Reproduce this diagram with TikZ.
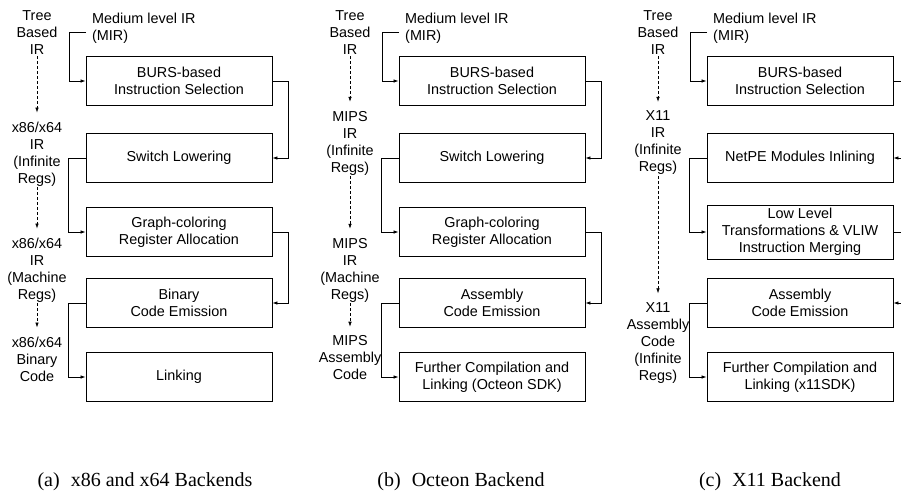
\documentclass[tikz,border=0pt]{standalone}
\usepackage{fontspec}
\setmainfont{Liberation Serif}
\setsansfont{Liberation Sans}
\usetikzlibrary{arrows.meta}

\tikzset{
  stage/.style={draw, line width=0.9pt, minimum width=186, minimum height=49,
    inner sep=1pt, align=center, font=\sffamily\fontsize{14.4}{17}\selectfont},
  irlabel/.style={inner sep=1pt, align=center, font=\sffamily\fontsize{14.4}{17}\selectfont},
  flow/.style={->, line width=0.7pt},
  lower/.style={->, dash pattern=on 3pt off 2pt, line width=0.6pt, shorten >=8pt},
  subcap/.style={anchor=base, font=\fontsize{20}{24}\selectfont}
}

\begin{document}
\begin{tikzpicture}[x=1pt, y=-1pt]
    \tikzset{>={Latex[length=5pt,width=3.5pt]}}
    \useasboundingbox (0,0) rectangle (901,493);
    \clip (0,0) rectangle (901,493);

    % (a) x86 and x64
    \node[stage] (a1) at (179,81) {BURS-based\\Instruction Selection};
    \node[stage] (a2) at (179,158) {Switch Lowering};
    \node[stage] (a3) at (179,232) {Graph-coloring\\Register Allocation};
    \node[stage] (a4) at (179,303) {Binary\\Code Emission};
    \node[stage] (a5) at (179,377) {Linking};
    \node[irlabel, anchor=west, align=left] (mira) at (91,28) {Medium level IR\\(MIR)};
    \coordinate (ina) at (86,32);
    \node[irlabel] (ta) at (37,33) {Tree\\Based\\IR};
    \node[irlabel] (ia) at (37,154) {x86/x64\\IR\\(Infinite\\Regs)};
    \node[irlabel] (ma) at (37,270) {x86/x64\\IR\\(Machine\\Regs)};
    \node[irlabel] (ba) at (37,359) {x86/x64\\Binary\\Code};
    \draw [flow] (ina) -- ++(-17,0) |- (a1.west);
    \draw [flow] (a1.east) -- ++(16,0) |- (a2.east);
    \draw [flow] (a2.west) -- ++(-17,0) |- (a3.west);
    \draw [flow] (a3.east) -- ++(16,0) |- (a4.east);
    \draw [flow] (a4.west) -- ++(-17,0) |- (a5.west);
    \draw [lower] (ta) -- (ia);
    \draw [lower] (ia) -- (ma);
    \draw [lower] (ma) -- (ba);
    \node[subcap] (capa) at (145,486) {(a)\hspace{0.55em}x86 and x64 Backends};

    % (b) Octeon
    \node[stage] (b1) at (492,81) {BURS-based\\Instruction Selection};
    \node[stage] (b2) at (492,158) {Switch Lowering};
    \node[stage] (b3) at (492,232) {Graph-coloring\\Register Allocation};
    \node[stage] (b4) at (492,303) {Assembly\\Code Emission};
    \node[stage] (b5) at (492,377) {Further Compilation and\\Linking (Octeon SDK)};
    \node[irlabel, anchor=west, align=left] (mirb) at (404,28) {Medium level IR\\(MIR)};
    \coordinate (inb) at (399,32);
    \node[irlabel] (tb) at (350,33) {Tree\\Based\\IR};
    \node[irlabel] (ib) at (350,143) {MIPS\\IR\\(Infinite\\Regs)};
    \node[irlabel] (mb) at (350,270) {MIPS\\IR\\(Machine\\Regs)};
    \node[irlabel] (bb) at (350,358) {MIPS\\Assembly\\Code};
    \draw [flow] (inb) -- ++(-17,0) |- (b1.west);
    \draw [flow] (b1.east) -- ++(16,0) |- (b2.east);
    \draw [flow] (b2.west) -- ++(-17,0) |- (b3.west);
    \draw [flow] (b3.east) -- ++(16,0) |- (b4.east);
    \draw [flow] (b4.west) -- ++(-17,0) |- (b5.west);
    \draw [lower] (tb) -- (ib);
    \draw [lower] (ib) -- (mb);
    \draw [lower] (mb) -- (bb);
    \node[subcap] (capb) at (461,486) {(b)\hspace{0.55em}Octeon Backend};

    % (c) X11
    \node[stage] (c1) at (800,81) {BURS-based\\Instruction Selection};
    \node[stage] (c2) at (800,158) {NetPE Modules Inlining};
    \node[stage, minimum height=54] (c3) at (800,232) {Low Level\\Transformations \& VLIW\\Instruction Merging};
    \node[stage] (c4) at (800,303) {Assembly\\Code Emission};
    \node[stage] (c5) at (800,377) {Further Compilation and\\Linking (x11SDK)};
    \node[irlabel, anchor=west, align=left] (mirc) at (712,28) {Medium level IR\\(MIR)};
    \coordinate (inc) at (707,32);
    \node[irlabel] (tc) at (658,33) {Tree\\Based\\IR};
    \node[irlabel] (ic) at (658,143) {X11\\IR\\(Infinite\\Regs)};
    \node[irlabel] (sc) at (658,343) {X11\\Assembly\\Code\\(Infinite\\Regs)};
    \draw [flow] (inc) -- ++(-17,0) |- (c1.west);
    \draw [flow] (c1.east) -- ++(16,0) |- (c2.east);
    \draw [flow] (c2.west) -- ++(-17,0) |- (c3.west);
    \draw [flow] (c3.east) -- ++(16,0) |- (c4.east);
    \draw [flow] (c4.west) -- ++(-17,0) |- (c5.west);
    \draw [lower] (tc) -- (ic);
    \draw [lower] (ic) -- (sc);
    \node[subcap] (capc) at (770,486) {(c)\hspace{0.55em}X11 Backend};
\end{tikzpicture}
\end{document}
